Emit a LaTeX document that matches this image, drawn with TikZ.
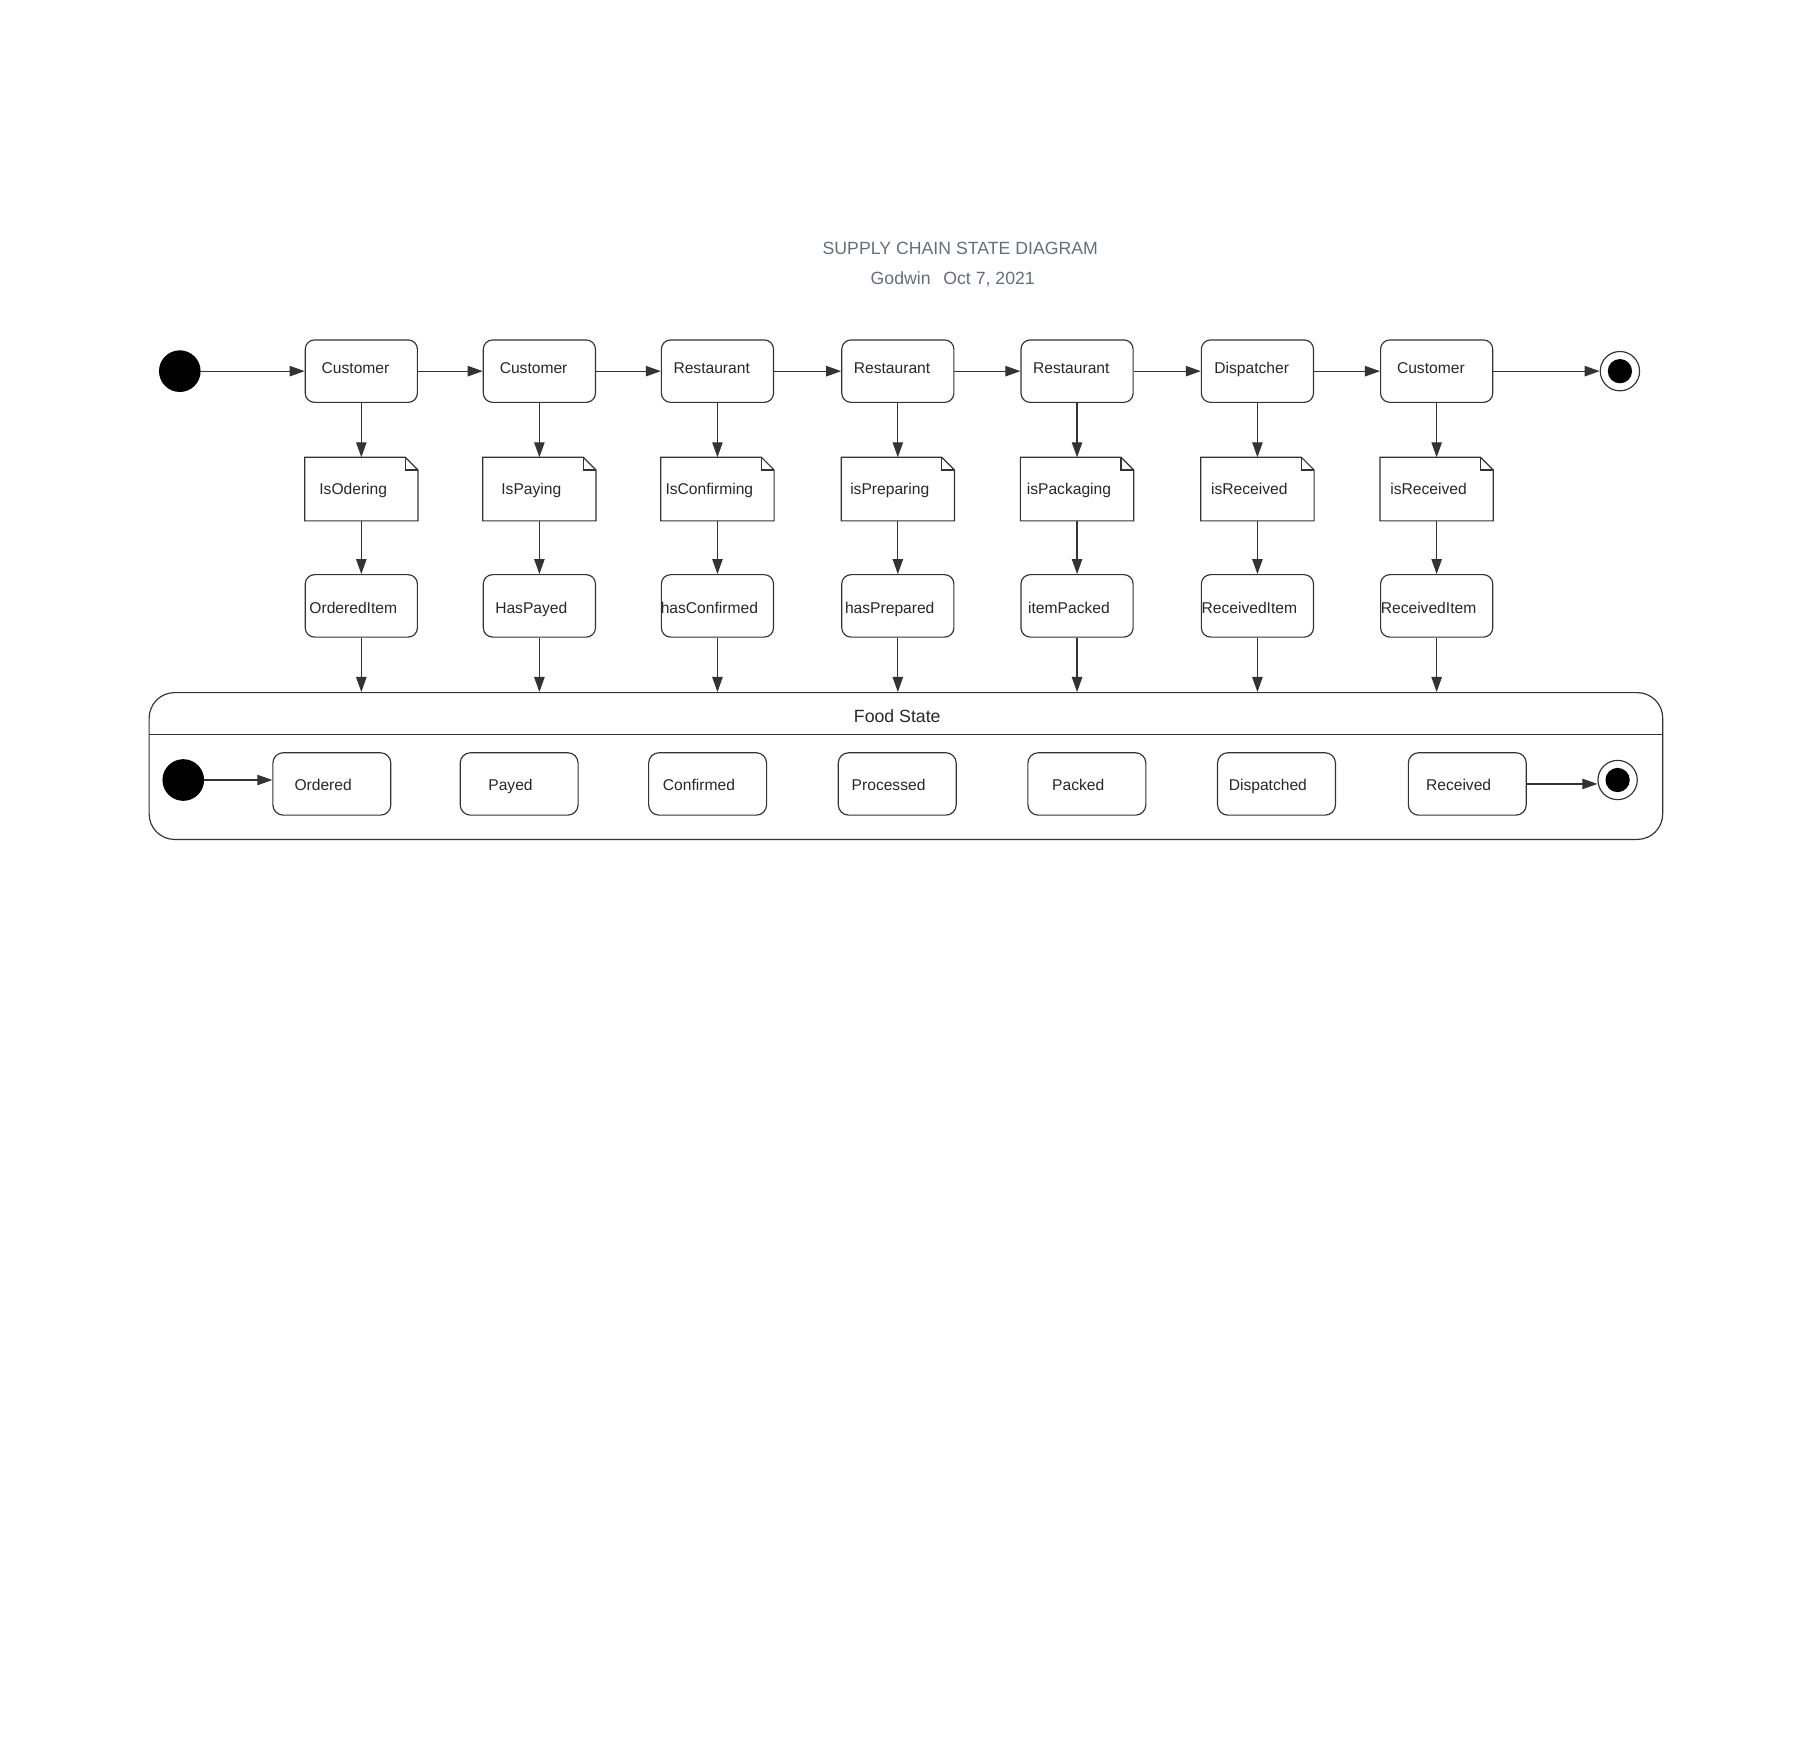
\documentclass[tikz,border=0pt]{standalone}
\usepackage{fontspec}
\setmainfont{Liberation Sans}
\usetikzlibrary{arrows.meta}
\definecolor{ln}{HTML}{333333}
\definecolor{txt}{HTML}{282828}
\definecolor{ttl}{HTML}{676D7C}
\begin{document}
\begin{tikzpicture}[x=1pt,y=-1pt,line width=1pt,
  every node/.style={font=\fontsize{13.5}{16}\selectfont,text=txt},
  every label/.style={inner sep=0pt,text height=9.7pt,text depth=0pt},
  st/.style={draw=ln,rounded corners=8pt,minimum width=97pt,minimum height=54pt,inner sep=0pt,fill=white},
  inst/.style={draw=ln,rounded corners=9pt,minimum width=102pt,minimum height=54pt,inner sep=0pt,fill=white},
  notebox/.style={minimum width=97pt,minimum height=54pt,inner sep=0pt},
  arr/.style={draw=ln,-{Triangle[length=13pt,width=9pt]}},
  startdot/.style={circle,fill=black,draw=black,minimum size=35pt,inner sep=0pt},
  enddot/.style={circle,draw=ln,fill=white,minimum size=34pt,inner sep=0pt,
    path picture={\fill[black] (path picture bounding box.center) circle (10.5pt);}},
  ttlstyle/.style={font=\fontsize{15.3}{18}\selectfont,text=ttl}
]
\useasboundingbox (0,0) rectangle (1568,1522);

\node[ttlstyle] (title) at (830.5,215) {SUPPLY CHAIN STATE DIAGRAM};
\node[ttlstyle] (sub) at (824,241.5) {Godwin\hspace{11pt}Oct 7, 2021};

\node[startdot] (s0) at (155.5,321) {};
\node[enddot] (e0) at (1401,321) {};

\foreach \x/\a/\b/\c [count=\i] in {
  312.5/Customer/IsOdering/OrderedItem,
  466.5/Customer/IsPaying/HasPayed,
  620.5/Restaurant/IsConfirming/hasConfirmed,
  776.5/Restaurant/isPreparing/hasPrepared,
  931.5/Restaurant/isPackaging/itemPacked,
  1087.5/Dispatcher/isReceived/ReceivedItem,
  1242.5/Customer/isReceived/ReceivedItem}{
  \node[st,label={[xshift=-5pt,yshift=2.5pt]center:\a}] (a\i) at (\x,321) {};
  \node[notebox,label={[xshift=-7pt,yshift=0pt]center:\b}] (b\i) at (\x,423) {};
  \draw[ln] (b\i.north west) -- ([xshift=-11pt]b\i.north east) -- ([yshift=-11pt]b\i.north east)
     -- (b\i.south east) -- (b\i.south west) -- cycle;
  \draw[ln] ([xshift=-11pt]b\i.north east) -- ([xshift=-11pt,yshift=-11pt]b\i.north east) -- ([yshift=-11pt]b\i.north east);
  \node[st,label={[xshift=-7pt,yshift=-1.5pt]center:\c}] (c\i) at (\x,524) {};
  \draw[arr] (a\i.south) -- (b\i.north);
  \draw[arr] (b\i.south) -- (c\i.north);
}

\draw[arr] (s0.east) -- (a1.west);
\foreach \i/\j in {1/2,2/3,3/4,4/5,5/6,6/7}{
  \draw[arr] (a\i.east) -- (a\j.west);
}
\draw[arr] (a7.east) -- (e0.west);

% Food State composite
\node[draw=ln,rounded corners=22pt,minimum width=1309pt,minimum height=127pt,inner sep=0pt] (fs) at (783.5,662.5) {};
\draw[ln] ([yshift=-37pt]fs.north west) -- ([yshift=-37pt]fs.north east);
\node[font=\fontsize{15.3}{18}\selectfont] (fst) at (776,619) {Food State};

\foreach \i in {1,...,7}{
  \draw[arr] (c\i.south) -- (c\i.south |- fs.north);
}

\node[startdot] (s1) at (158.5,674.6) {};
\node[enddot] (e1) at (1399,674.6) {};
\foreach \x/\t [count=\i] in {287/Ordered,449/Payed,612/Confirmed,776/Processed,940/Packed,1104/Dispatched,1269/Received}{
  \node[inst,label={[xshift=-7.5pt,yshift=-1pt]center:\t}] (o\i) at (\x,678) {};
}
\draw[arr] (s1.east) -- (s1.east -| o1.west);
\draw[arr] (o7.east) -- (o7.east -| e1.west);
\end{tikzpicture}
\end{document}
